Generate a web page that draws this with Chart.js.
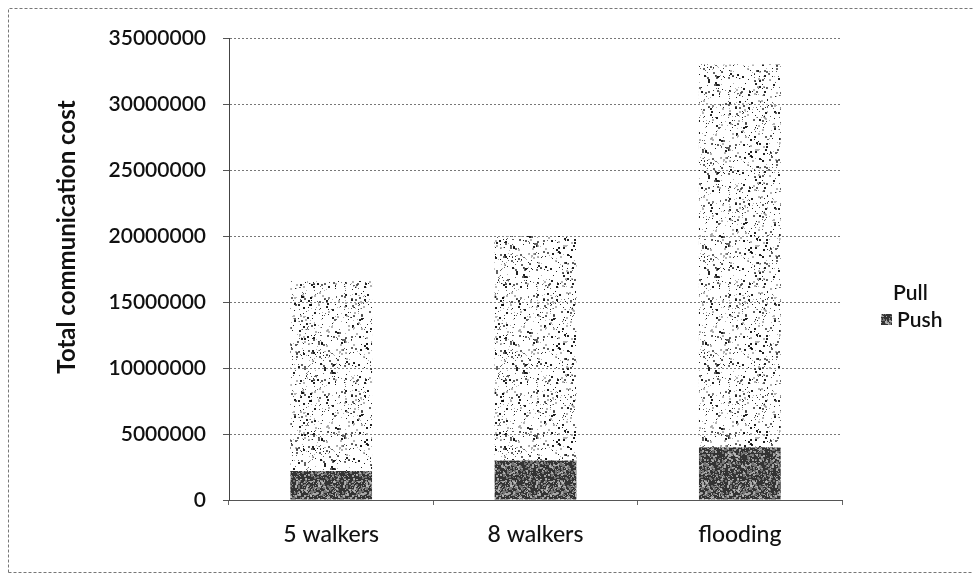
<!doctype html>
<html lang="en">
<head>
<meta charset="utf-8">
<title>Total communication cost</title>
<script src="https://cdn.jsdelivr.net/npm/chart.js"></script>
<style>
  html, body { margin: 0; padding: 0; background: #fff; }
  #wrap { width: 973px; height: 587px; position: relative; }
</style>
</head>
<body>
<div id="wrap"><canvas id="myChart" width="973" height="587"></canvas></div>
<script>
// data
const categories = ['5 walkers', '8 walkers', 'flooding'];
const pushCost = [2200000, 3000000, 4000000];
const pullCost = [14400000, 17000000, 29000000];
const yTicks = [0, 5000000, 10000000, 15000000, 20000000, 25000000, 30000000, 35000000];
const yTitle = 'Total communication cost';

// small seeded generator so the stipple texture is the same every load
function lcg(seed) {
    let s = seed;
    return function () {
        s = (s * 1664525 + 1013904223) % 4294967296;
        return s / 4294967296;
    };
}

function stipple(size, base, tones, density, seed) {
    const c = document.createElement('canvas');
    c.width = size; c.height = size;
    const g = c.getContext('2d');
    if (base) { g.fillStyle = base; g.fillRect(0, 0, size, size); }
    const rnd = lcg(seed);
    const n = Math.floor(size * size * density);
    for (let i = 0; i < n; i++) {
        const x = Math.floor(rnd() * size);
        const y = Math.floor(rnd() * size);
        const w = rnd() < 0.35 ? 2 : 1;
        g.fillStyle = tones[Math.floor(rnd() * tones.length)];
        g.fillRect(x, y, w, w);
    }
    return g.createPattern(c, 'repeat');
}

const ctx0 = document.getElementById('myChart').getContext('2d');
const pushFill = stipple(48, '#333333', ['rgba(190,190,190,0.8)', 'rgba(120,120,120,0.9)'], 0.3, 7);
const pullFill = stipple(96, null, ['rgba(10,10,10,0.9)', 'rgba(60,60,60,0.8)', 'rgba(150,150,150,0.7)'], 0.075, 31);

const textColor = '#111';
const fontFamily = 'Lato, "Open Sans", sans-serif';

// dotted frame, rotated axis title and the right-hand legend
const extras = {
    id: 'extras',
    beforeDraw(chart) {
        const c = chart.ctx;
        c.save();
        c.fillStyle = '#fff';
        c.fillRect(0, 0, chart.width, chart.height);
        c.strokeStyle = '#777';
        c.lineWidth = 1;
        c.setLineDash([3, 2]);
        c.beginPath();
        c.moveTo(8.5, 572.5); c.lineTo(8.5, 8.5); c.lineTo(chart.width, 8.5);
        c.moveTo(8.5, 572.5); c.lineTo(chart.width, 572.5);
        c.stroke();
        c.restore();
    },
    afterDraw(chart) {
        const c = chart.ctx;
        c.save();
        c.translate(67, 237);
        c.rotate(-Math.PI / 2);
        c.font = 'bold 24px ' + fontFamily;
        c.fillStyle = textColor;
        c.textAlign = 'center';
        c.textBaseline = 'middle';
        c.fillText(yTitle, 0, 0);
        c.restore();

        c.save();
        c.font = '600 21px ' + fontFamily;
        c.textBaseline = 'middle';
        const ds = chart.data.datasets;
        // Pull on top, Push below; the Pull swatch is too sparse to show
        c.fillStyle = textColor;
        c.fillText(ds[1].label, 893, 293);
        c.fillStyle = ds[0].backgroundColor;
        c.fillRect(881, 314, 11, 11);
        c.fillStyle = textColor;
        c.fillText(ds[0].label, 897, 320);
        c.restore();
    }
};

new Chart(ctx0, {
    type: 'bar',
    data: {
        labels: categories,
        datasets: [{
            label: 'Push',
            data: pushCost,
            backgroundColor: pushFill,
            borderWidth: 0
        }, {
            label: 'Pull',
            data: pullCost,
            backgroundColor: pullFill,
            borderWidth: 0
        }]
    },
    options: {
        responsive: false,
        animation: false,
        events: [],
        barPercentage: 0.5,
        categoryPercentage: 0.8,
        layout: { padding: { left: 10, right: 131, top: 38, bottom: 0 } },
        plugins: {
            legend: { display: false },
            tooltip: { enabled: false }
        },
        scales: {
            x: {
                stacked: true,
                afterFit: (s) => { s.height = 87; },
                grid: {
                    offset: true,
                    drawOnChartArea: false,
                    drawTicks: true,
                    tickLength: 5,
                    color: '#666'
                },
                border: { display: true, color: '#555', width: 1 },
                ticks: {
                    color: textColor,
                    padding: 16,
                    font: { family: fontFamily, size: 23, weight: '500' }
                }
            },
            y: {
                stacked: true,
                min: 0,
                max: 35000000,
                afterFit: (s) => { s.width = 219; },
                afterBuildTicks: (s) => { s.ticks = yTicks.map(v => ({ value: v })); },
                grid: {
                    color: '#777',
                    lineWidth: 1,
                    drawTicks: true,
                    tickLength: 6,
                    tickColor: '#555'
                },
                border: { display: true, color: '#444', width: 1, dash: [2, 2] },
                ticks: {
                    color: textColor,
                    padding: 17,
                    font: { family: fontFamily, size: 21, weight: '600' },
                    callback: (v) => String(v)
                }
            }
        }
    },
    plugins: [extras]
});
</script>
</body>
</html>
